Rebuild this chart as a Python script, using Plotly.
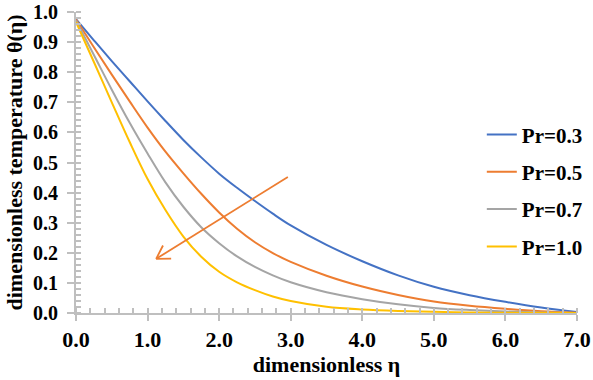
import math
import plotly.graph_objects as go

# ---- data ----
eta = [0.0, 0.25, 0.5, 0.75, 1.0, 1.25, 1.5, 1.75, 2.0, 2.25, 2.5, 2.75, 3.0,
       3.5, 4.0, 4.5, 5.0, 5.5, 6.0, 6.5, 7.0]

theta_pr03 = [0.976, 0.906, 0.837, 0.770, 0.703, 0.638, 0.575, 0.517, 0.463,
              0.416, 0.372, 0.330, 0.291, 0.226, 0.172, 0.125, 0.087, 0.059,
              0.037, 0.018, 0.003]
theta_pr05 = [0.975, 0.883, 0.792, 0.703, 0.616, 0.536, 0.464, 0.396, 0.334,
              0.280, 0.235, 0.199, 0.170, 0.124, 0.088, 0.060, 0.038, 0.024,
              0.014, 0.006, 0.001]
theta_pr07 = [0.972, 0.857, 0.742, 0.632, 0.530, 0.434, 0.353, 0.285, 0.232,
              0.188, 0.153, 0.125, 0.102, 0.069, 0.046, 0.029, 0.017, 0.010,
              0.005, 0.002, 0.000]
theta_pr10 = [0.967, 0.834, 0.700, 0.568, 0.445, 0.342, 0.254, 0.187, 0.137,
              0.102, 0.076, 0.055, 0.040, 0.021, 0.012, 0.007, 0.004, 0.002,
              0.001, 0.0005, 0.000]

series_names = ["Pr=0.3", "Pr=0.5", "Pr=0.7", "Pr=1.0"]
series_values = [theta_pr03, theta_pr05, theta_pr07, theta_pr10]
series_colors = ["#4472C4", "#ED7D31", "#A5A5A5", "#FFC000"]

x_ticks = [0, 1, 2, 3, 4, 5, 6, 7]
y_ticks = [0.0, 0.1, 0.2, 0.3, 0.4, 0.5, 0.6, 0.7, 0.8, 0.9, 1.0]

# arrow (tail -> head) in data units
arrow_tail = (2.96, 0.452)
arrow_head = (1.12, 0.180)

# ---- layout geometry ----
W, H = 593, 380
M_L, M_R, M_T, M_B = 76, 16, 12, 67
plot_w = W - M_L - M_R
plot_h = H - M_T - M_B
X_RANGE = (0, 7)
Y_RANGE = (0, 1.0)
px_per_x = plot_w / (X_RANGE[1] - X_RANGE[0])
px_per_y = plot_h / (Y_RANGE[1] - Y_RANGE[0])

FONT = "Liberation Serif"
AXIS_COLOR = "#BFBFBF"
XTICKFONT = dict(family=FONT, size=22, color="black", weight="bold")
YTICKFONT = dict(family=FONT, size=20, color="black", weight="bold")
TITLEFONT = dict(family=FONT, size=22, color="black", weight="bold")
LEGENDFONT = dict(family=FONT, size=21, color="black", weight="bold")

fig = go.Figure()
for name, vals, col in zip(series_names, series_values, series_colors):
    fig.add_trace(go.Scatter(
        x=eta, y=vals, name=name, mode="lines",
        line=dict(color=col, width=2, shape="spline", smoothing=1.0),
        legendgroup=name,
    ))

# arrow shaft
ARROW_COLOR = "#ED7D31"
fig.add_shape(type="line", x0=arrow_tail[0], y0=arrow_tail[1],
              x1=arrow_head[0], y1=arrow_head[1],
              line=dict(color=ARROW_COLOR, width=1.8))
# open V head (computed in pixel space so the angle looks right)
dxp = (arrow_tail[0] - arrow_head[0]) * px_per_x
dyp = -(arrow_tail[1] - arrow_head[1]) * px_per_y
ang = math.atan2(dyp, dxp)
arm = 15
path = ""
for sgn in (-1, 1):
    a = ang + sgn * math.radians(31)
    ex = arrow_head[0] + arm * math.cos(a) / px_per_x
    ey = arrow_head[1] - arm * math.sin(a) / px_per_y
    path += f"M {ex} {ey} L {arrow_head[0]} {arrow_head[1]} "
fig.add_shape(type="path", path=path, line=dict(color=ARROW_COLOR, width=1.8))

fig.update_layout(
    width=W, height=H,
    margin=dict(l=M_L, r=M_R, t=M_T, b=M_B, autoexpand=False),
    paper_bgcolor="white", plot_bgcolor="white",
    font=XTICKFONT,
    showlegend=True,
    legend=dict(
        x=0.81, y=0.66, xanchor="left", yanchor="top",
        bgcolor="rgba(0,0,0,0)",
        font=LEGENDFONT,
        traceorder="grouped", tracegroupgap=7,
        itemwidth=30,
    ),
)

fig.update_xaxes(
    range=list(X_RANGE), tickvals=x_ticks, tickformat=".1f",
    automargin=False, ticklabeloverflow="allow",
    showgrid=False, zeroline=False,
    showline=True, linecolor=AXIS_COLOR, linewidth=2,
    ticks="outside", ticklen=6, tickwidth=2, tickcolor=AXIS_COLOR,
    tickfont=XTICKFONT,
    minor=dict(ticks="inside", ticklen=5, tickwidth=1.5, tickcolor=AXIS_COLOR, dtick=0.2),
    title=dict(text="dimensionless η", standoff=4, font=TITLEFONT),
)
fig.update_yaxes(
    range=list(Y_RANGE), tickvals=y_ticks, tickformat=".1f",
    automargin=False, ticklabeloverflow="allow",
    showgrid=False, zeroline=False,
    showline=True, linecolor=AXIS_COLOR, linewidth=2,
    ticks="outside", ticklen=7, tickwidth=2, tickcolor=AXIS_COLOR,
    tickfont=YTICKFONT, ticklabelstandoff=5,
    minor=dict(ticks="inside", ticklen=5, tickwidth=1.5, tickcolor=AXIS_COLOR, dtick=0.02),
    title=dict(text="dimensionless temperature θ(η)", standoff=4, font=TITLEFONT),
)

fig.write_html(
    "out.html",
    config={"displayModeBar": False},
    post_script="document.body.style.margin='0';document.body.style.padding='0';",
)
